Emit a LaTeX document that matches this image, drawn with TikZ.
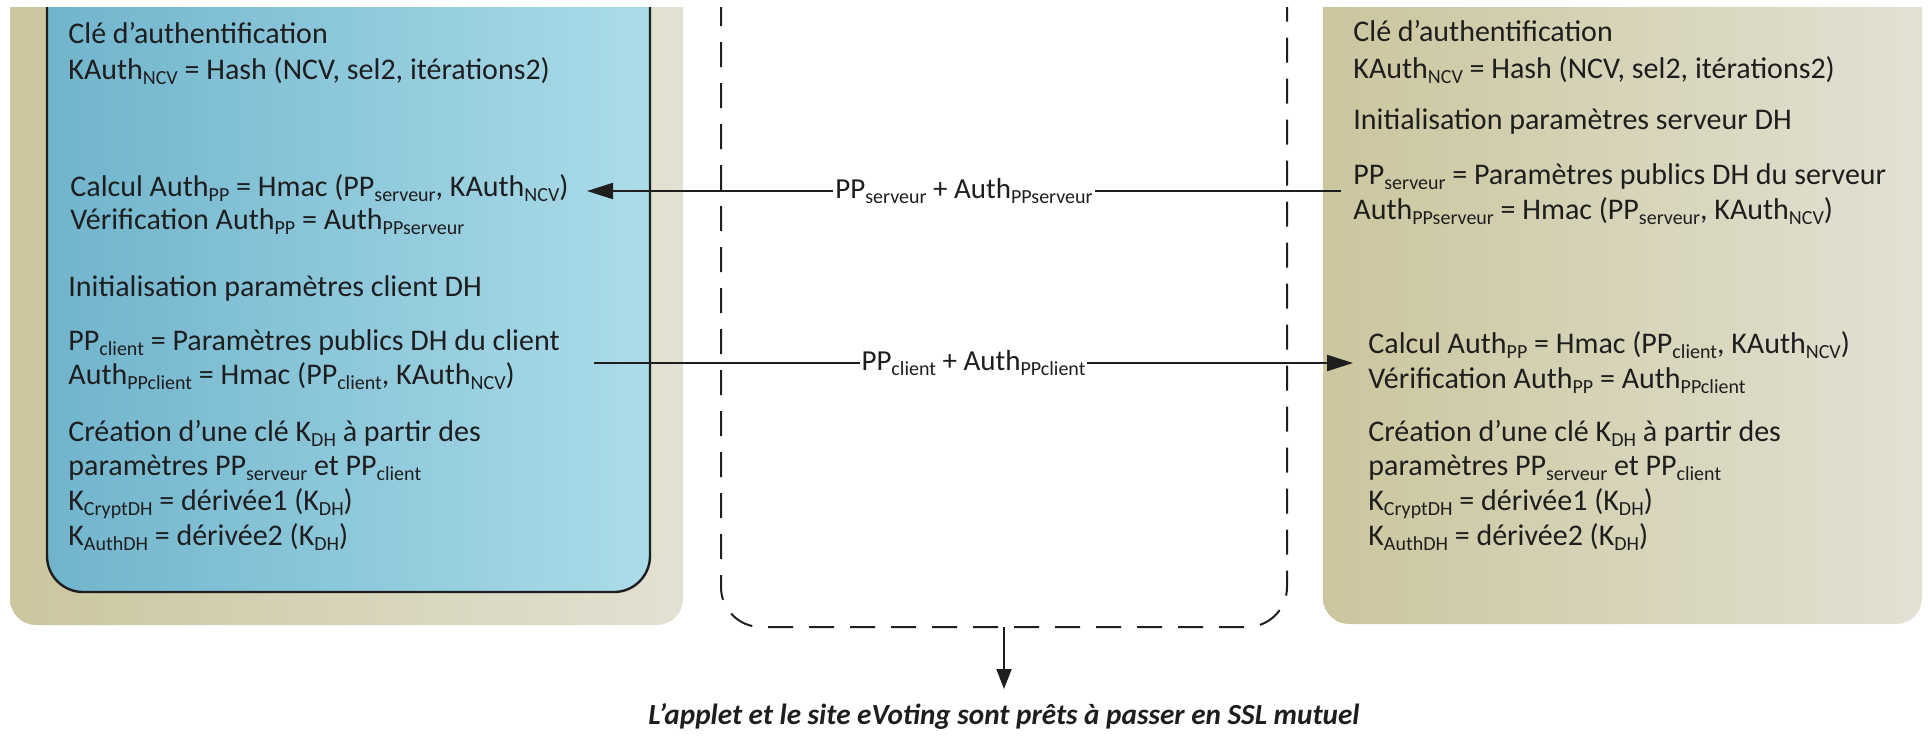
\documentclass[tikz,border=0pt]{standalone}
\usepackage{fontspec}
\setmainfont{Carlito}
\usetikzlibrary{arrows.meta}
\definecolor{olivedark}{HTML}{CBC69E}
\definecolor{olivelight}{HTML}{E2E1D3}
\definecolor{bluedark}{HTML}{70B4CC}
\definecolor{bluelight}{HTML}{ABDCE9}
\definecolor{ink}{HTML}{1E1E1E}
% lowered, reduced index text
\newcommand\sbs[1]{\raisebox{-0.35ex}{\fontsize{10}{10}\selectfont #1}}

\begin{document}
\begin{tikzpicture}[x=0.5pt,y=-0.5pt,
  txt/.style={anchor=mid west, inner sep=0pt, font=\fontsize{15}{18}\selectfont, text=ink},
  msg/.style={fill=white, inner xsep=1pt, inner ysep=2pt, font=\fontsize{14.5}{17}\selectfont, text=ink},
  flow/.style={line width=1pt, draw=ink, -{Triangle[length=13pt,width=8pt]}},
  down/.style={line width=1pt, draw=ink, -{Triangle[length=10pt,width=7.5pt]}}]
\useasboundingbox (0,0) rectangle (1929,736);

% lanes, boxes open at the top
\begin{scope}
  \clip (0,7) rectangle (1929,736);
  \shade[left color=olivedark, right color=olivelight, rounded corners=13]
    (10,-40) -- (10,625) -- (683,625) -- (683,-40) -- cycle;
  \shade[left color=olivedark, right color=olivelight, rounded corners=13]
    (1323,-40) -- (1323,624) -- (1922,624) -- (1922,-40) -- cycle;
  \shade[left color=bluedark, right color=bluelight, rounded corners=18]
    (47,-40) -- (47,592) -- (650,592) -- (650,-40) -- cycle;
  \draw[line width=1.2pt, draw=ink, rounded corners=18]
    (47,-40) -- (47,592) -- (650,592) -- (650,-40);
  \draw[line width=1pt, draw=ink, dash pattern=on 12.5pt off 8pt, rounded corners=20]
    (721,-40) -- (721,627) -- (1287,627) -- (1287,-40);
\end{scope}

% client side
\node[txt] (lCle)  at (68,39)  {Clé d’authentification};
\node[txt] (lKA)   at (68,75)  {KAuth\sbs{NCV} = Hash (NCV, sel2, itérations2)};
\node[txt] (lCalc) at (70,192) {Calcul Auth\sbs{PP} = Hmac (PP\sbs{serveur}, KAuth\sbs{NCV})};
\node[txt] (lVer)  at (70,225) {Vérification Auth\sbs{PP} = Auth\sbs{PPserveur}};
\node[txt] (lInit) at (68,292) {Initialisation paramètres client DH};
\node[txt] (lPP)   at (68,346) {PP\sbs{client} = Paramètres publics DH du client};
\node[txt] (lAuth) at (68,380) {Auth\sbs{PPclient} = Hmac (PP\sbs{client}, KAuth\sbs{NCV})};
\node[txt] (lCre)  at (68,437) {Création d’une clé K\sbs{DH} à partir des};
\node[txt] (lPar)  at (68,471) {paramètres PP\sbs{serveur} et PP\sbs{client}};
\node[txt] (lKC)   at (68,506) {K\sbs{CryptDH} = dérivée1 (K\sbs{DH})};
\node[txt] (lKAu)  at (68,541) {K\sbs{AuthDH} = dérivée2 (K\sbs{DH})};

% server side
\node[txt] (rCle)  at (1353,37)  {Clé d’authentification};
\node[txt] (rKA)   at (1353,74)  {KAuth\sbs{NCV} = Hash (NCV, sel2, itérations2)};
\node[txt] (rInit) at (1353,125) {Initialisation paramètres serveur DH};
\node[txt] (rPP)   at (1353,180) {PP\sbs{serveur} = Paramètres publics DH du serveur};
\node[txt] (rAuth) at (1353,215) {Auth\sbs{PPserveur} = Hmac (PP\sbs{serveur}, KAuth\sbs{NCV})};
\node[txt] (rCalc) at (1368,349) {Calcul Auth\sbs{PP} = Hmac (PP\sbs{client}, KAuth\sbs{NCV})};
\node[txt] (rVer)  at (1368,384) {Vérification Auth\sbs{PP} = Auth\sbs{PPclient}};
\node[txt] (rCre)  at (1368,437) {Création d’une clé K\sbs{DH} à partir des};
\node[txt] (rPar)  at (1368,471) {paramètres PP\sbs{serveur} et PP\sbs{client}};
\node[txt] (rKC)   at (1368,506) {K\sbs{CryptDH} = dérivée1 (K\sbs{DH})};
\node[txt] (rKAu)  at (1368,541) {K\sbs{AuthDH} = dérivée2 (K\sbs{DH})};

% message endpoints
\coordinate (m1s) at (1341,191);
\coordinate (m1t) at (587,191);
\coordinate (m2s) at (594,363);
\coordinate (m2t) at (1353,363);
\coordinate (ds)  at (1004,627);
\coordinate (dt)  at (1004,689);

\draw[flow] (m1s) -- node[msg] (msgS) {PP\sbs{serveur} + Auth\sbs{PPserveur}} (m1t);
\draw[flow] (m2s) -- node[msg] (msgC) {PP\sbs{client} + Auth\sbs{PPclient}} (m2t);

\draw[down] (ds) -- (dt);
\node[font=\fontsize{14.6}{17}\selectfont\bfseries\itshape, text=ink, inner sep=0pt] (fin) at (1004,716)
  {L’applet et le site eVoting sont prêts à passer en SSL mutuel};
\end{tikzpicture}
\end{document}
